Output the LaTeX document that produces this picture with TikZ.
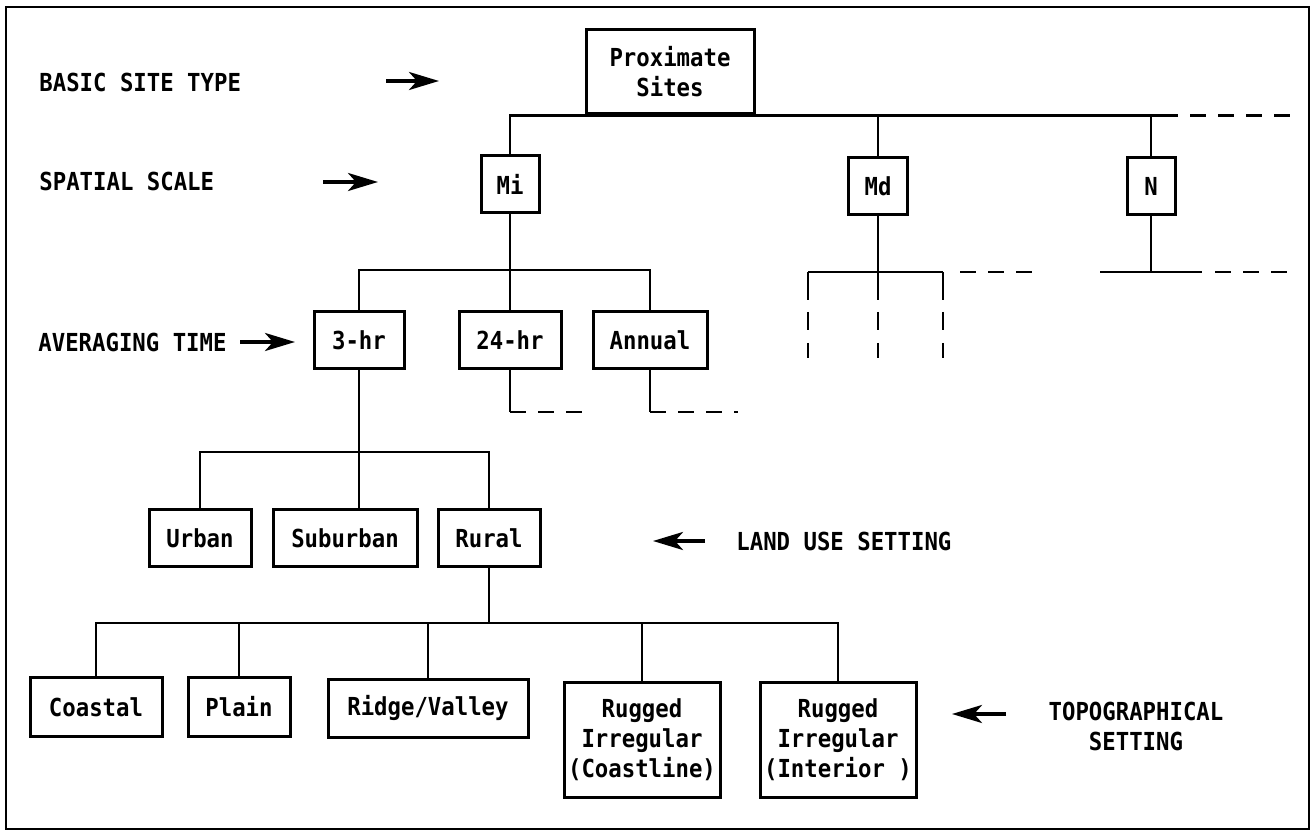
\documentclass[tikz,border=0pt]{standalone}
\usepackage{fontspec}
\setmonofont{DejaVu Sans Mono}[FakeStretch=0.9]
\usetikzlibrary{arrows.meta, positioning, calc}

\begin{document}
\begin{tikzpicture}[
  x=0.5pt, y=-0.5pt,
  font=\ttfamily\bfseries\fontsize{12.4}{15}\selectfont,
  box/.style={rectangle, draw, line width=1.5pt, minimum height=28.5pt, align=center, inner sep=1pt},
  tag/.style={anchor=west, inner sep=0pt},
  link/.style={line width=1.3pt},
  dashline/.style={line width=1.3pt, dash pattern=on 8pt off 6pt},
  stubline/.style={line width=1.3pt, dash pattern=on 14pt off 6pt on 9pt off 6.5pt on 7.5pt},
  pointer/.style={-{Stealth[length=15pt, width=9pt, inset=4pt]}, line width=1.8pt}
]
  \useasboundingbox (0,0) rectangle (1314,834);
  \draw[line width=1.3pt] (6,7) rectangle (1309,829);

  % Site type and spatial scale
  \node[box, minimum width=84pt, minimum height=42pt] (prox) at (670,72) {Proximate\\Sites};
  \node[box, minimum width=29pt] (mi) at (510,184) {Mi};
  \node[box, minimum width=29.5pt] (md) at (878,186) {Md};
  \node[box, minimum width=24pt] (n) at (1151,186) {N};

  % Averaging time
  \node[box, minimum width=45pt] (hr3) at (359,340) {3-hr};
  \node[box, minimum width=51pt] (hr24) at (510,340) {24-hr};
  \node[box, minimum width=57pt] (annual) at (650,340) {Annual};

  % Land use
  \node[box, minimum width=51pt] (urban) at (200,538) {Urban};
  \node[box, minimum width=72pt] (suburban) at (345,538) {Suburban};
  \node[box, minimum width=51pt] (rural) at (489,538) {Rural};

  % Topography
  \node[box, minimum width=66pt, minimum height=29.5pt] (coastal) at (96,707) {Coastal};
  \node[box, minimum width=51pt, minimum height=29.5pt] (plain) at (239,707) {Plain};
  \node[box, minimum width=100pt, minimum height=29pt] (ridge) at (428,708) {Ridge/Valley};
  \node[box, minimum width=78pt, minimum height=57.5pt] (coastline) at (642,740) {Rugged\\Irregular\\(Coastline)};
  \node[box, minimum width=78pt, minimum height=57.5pt] (interior) at (838,740) {Rugged\\Irregular\\(Interior\ )};

  % Level labels
  \node[tag] (basic) at (39,82) {BASIC SITE TYPE};
  \node[tag] (spatial) at (39,181) {SPATIAL SCALE};
  \node[tag] (avg) at (38,342) {AVERAGING TIME};
  \node[tag] (landuse) at (736,541) {LAND USE SETTING};
  \node[align=center, inner sep=0pt] (topo) at (1136,726) {TOPOGRAPHICAL\\SETTING};

  % Label arrows
  \coordinate (basic-s) at (386,81);
  \coordinate (basic-e) at (439,81);
  \coordinate (spatial-s) at (323,182);
  \coordinate (spatial-e) at (378,182);
  \coordinate (avg-s) at (240,342);
  \coordinate (avg-e) at (295,342);
  \coordinate (landuse-s) at (705,541);
  \coordinate (landuse-e) at (653,541);
  \coordinate (topo-s) at (1006,714);
  \coordinate (topo-e) at (952,714);
  \draw[pointer] (basic-s) -- (basic-e);
  \draw[pointer] (spatial-s) -- (spatial-e);
  \draw[pointer] (avg-s) -- (avg-e);
  \draw[pointer] (landuse-s) -- (landuse-e);
  \draw[pointer] (topo-s) -- (topo-e);

  % Top bus
  \coordinate (topsolid) at (1162,114);
  \coordinate (topend) at (1295,114);
  \draw[link] (mi.north) |- (prox.south) -| (md.north);
  \draw[link] (md.north |- prox.south) -| (n.north);
  \draw[link] (n.north |- prox.south) -- (topsolid |- prox.south);
  \draw[dashline] (topsolid |- prox.south) -- (topend |- prox.south);

  % Mi branches
  \coordinate (avgbus) at (510,270);
  \draw[link] (mi.south) -- (avgbus);
  \draw[link] (hr3.north) |- (avgbus) -| (annual.north);
  \draw[link] (avgbus) -- (hr24.north);
  \coordinate (hr24corner) at (510,412);
  \coordinate (hr24end) at (586,412);
  \draw[link] (hr24.south) -- (hr24corner);
  \draw[dashline] (hr24corner) -- (hr24end);
  \coordinate (annualcorner) at (650,412);
  \coordinate (annualend) at (738,412);
  \draw[link] (annual.south) -- (annualcorner);
  \draw[dashline] (annualcorner) -- (annualend);

  % Md branches
  \coordinate (mdbus) at (878,272);
  \coordinate (mdleft) at (808,272);
  \coordinate (mdright) at (943,272);
  \coordinate (mddash) at (960,272);
  \coordinate (mdend) at (1035,272);
  \draw[link] (md.south) -- (mdbus);
  \draw[link] (mdleft) -- (mdright);
  \draw[dashline] (mddash) -- (mdend);
  \draw[stubline] (mdleft) -- ++(0,86);
  \draw[stubline] (mdbus) -- ++(0,86);
  \draw[stubline] (mdright) -- ++(0,86);

  % N branches
  \coordinate (nbus) at (1151,272);
  \coordinate (nleft) at (1100,272);
  \coordinate (nsolid) at (1202,272);
  \coordinate (ndash) at (1215,272);
  \coordinate (nend) at (1290,272);
  \draw[link] (n.south) -- (nbus);
  \draw[link] (nleft) -- (nsolid);
  \draw[dashline] (ndash) -- (nend);

  % 3-hr branches
  \coordinate (landbus) at (359,452);
  \draw[link] (hr3.south) -- (hr3.south |- suburban.north);
  \draw[link] (urban.north) |- (landbus) -| (rural.north);

  % Rural branches
  \coordinate (topobus) at (489,623);
  \draw[link] (rural.south) -- (topobus);
  \draw[link] (coastal.north) |- (topobus) -| (interior.north);
  \draw[link] (plain.north) -- (plain.north |- topobus);
  \draw[link] (ridge.north) -- (ridge.north |- topobus);
  \draw[link] (coastline.north) -- (coastline.north |- topobus);
\end{tikzpicture}
\end{document}
